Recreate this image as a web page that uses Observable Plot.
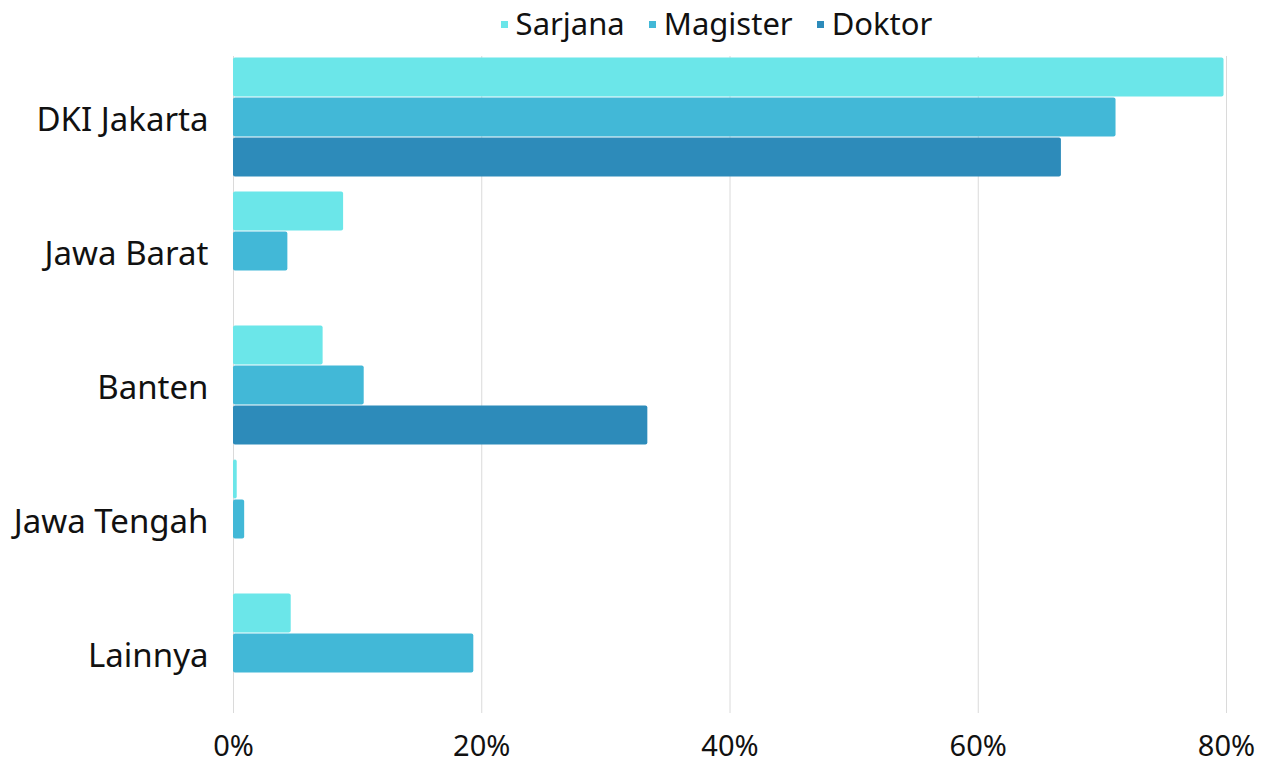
<!DOCTYPE html>
<html>
<head>
<meta charset="utf-8">
<script src="https://cdn.jsdelivr.net/npm/d3@7"></script>
<script src="https://cdn.jsdelivr.net/npm/@observablehq/plot@0.6"></script>
<style>
  html, body { margin: 0; padding: 0; background: #fff; }
  body { width: 1273px; height: 767px; overflow: hidden; font-family: "Noto Sans", sans-serif; color: #111; }
  #legend { height: 45px; display: flex; justify-content: center; align-items: center; padding-left: 160px; box-sizing: border-box; font-size: 31px; }
  .item { display: flex; align-items: center; margin: 0 12px; }
  .sw { width: 7px; height: 7px; margin-right: 8px; margin-top: 4px; }
  svg { display: block; }
</style>
</head>
<body>
<div id="legend"></div>
<div id="chart"></div>
<script>
const regions = ["DKI Jakarta", "Jawa Barat", "Banten", "Jawa Tengah", "Lainnya"];
const levels = ["Sarjana", "Magister", "Doktor"];
const colors = ["#6be6e9", "#42b8d7", "#2d8bba"];
const sarjana  = [0.798, 0.0887, 0.0722, 0.003, 0.0465];
const magister = [0.711, 0.0438, 0.1053, 0.009, 0.1936];
const doktor   = [0.667, null,   0.3338, null,  null];
const xTicks = [0, 0.2, 0.4, 0.6, 0.8];

const series = [sarjana, magister, doktor];
const data = [];
regions.forEach((r, i) => levels.forEach((l, j) => {
  const v = series[j][i];
  if (v != null) data.push({region: r, level: l, value: v});
}));

const gridData = regions.slice(0, -1).flatMap(r => xTicks.map(t => ({region: r, x: t})));
const lastGrid = xTicks.map(t => ({region: regions[regions.length - 1], x: t}));

const legend = document.getElementById("legend");
levels.forEach((l, j) => {
  const it = document.createElement("div");
  it.className = "item";
  it.innerHTML = `<span class="sw" style="background:${colors[j]}"></span><span>${l}</span>`;
  legend.appendChild(it);
});

const chart = Plot.plot({
  width: 1273,
  height: 722,
  marginLeft: 233,
  marginRight: 47,
  marginTop: 9,
  marginBottom: 52,
  style: {fontFamily: "'Noto Sans', sans-serif", color: "#111", background: "#fff"},
  x: {domain: [0, 0.8]},
  y: {domain: levels, paddingInner: 0, paddingOuter: 0, axis: null},
  fy: {domain: regions, paddingInner: 0.0967, paddingOuter: 0},
  color: {domain: levels, range: colors},
  marks: [
    Plot.ruleX(gridData, {x: "x", fy: "region", stroke: "#dadada", strokeWidth: 1, insetBottom: -13}),
    Plot.ruleX(lastGrid, {x: "x", fy: "region", stroke: "#dadada", strokeWidth: 1}),
    Plot.barX(data, {x: "value", y: "level", fy: "region", fill: "level", insetTop: 0.5, insetBottom: 0.5, rx: 2}),
    Plot.axisX({ticks: xTicks, tickFormat: d3.format(".0%"), tickSize: 0, tickPadding: 22, fontSize: 29, label: null}),
    Plot.axisFy({anchor: "left", tickSize: 0, tickPadding: 25, fontSize: 33, dy: 3, label: null})
  ]
});
document.getElementById("chart").appendChild(chart);
</script>
</body>
</html>
